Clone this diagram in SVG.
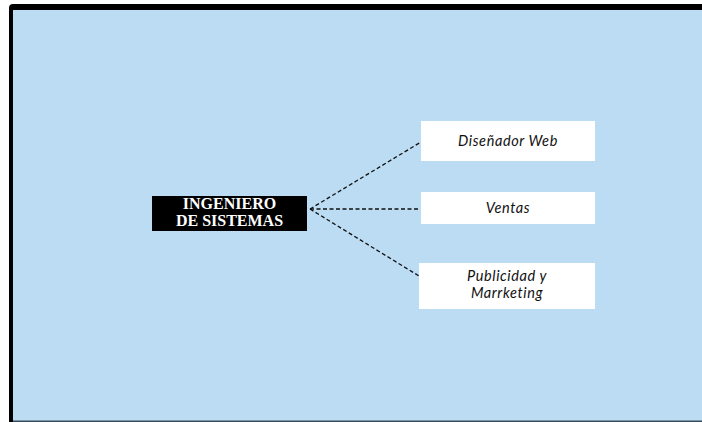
<svg xmlns="http://www.w3.org/2000/svg" width="702" height="422" viewBox="0 0 702 422">
<style>
.lbl{font-family:"Lato","Noto Sans",sans-serif;font-style:italic;font-size:14.5px;fill:#111;text-anchor:middle;letter-spacing:0.6px}
.head{font-family:"Liberation Serif",serif;font-weight:bold;font-size:16px;fill:#ffffff;text-anchor:middle}
.box{fill:#ffffff}
.conn{stroke:#111;stroke-width:1.3;stroke-dasharray:4 2.5;fill:none}
</style>
<rect x="0" y="0" width="702" height="422" fill="#ffffff"/>
<rect x="9" y="4" width="700" height="422" rx="4" fill="#000"/>
<rect x="13" y="10" width="689" height="411" fill="#bbdcf3"/>
<rect x="13" y="420.5" width="689" height="1.5" fill="#3a4a5a"/>
<g id="connectors">
<line class="conn" x1="310" y1="209" x2="421" y2="142"/>
<line class="conn" x1="310" y1="209" x2="420" y2="209"/>
<line class="conn" x1="310" y1="209" x2="419" y2="276"/>
</g>
<g id="root">
<rect x="152" y="196" width="155" height="35" fill="#000"/>
<text class="head" x="229.5" y="209">INGENIERO</text>
<text class="head" x="229.5" y="226">DE SISTEMAS</text>
</g>
<g id="n-disenador">
<rect class="box" x="421" y="121" width="174" height="40"/>
<text class="lbl" x="508" y="146">Diseñador Web</text>
</g>
<g id="n-ventas">
<rect class="box" x="421" y="192" width="174" height="32"/>
<text class="lbl" x="508" y="213">Ventas</text>
</g>
<g id="n-publicidad">
<rect class="box" x="419" y="263" width="176" height="46"/>
<text class="lbl" x="507" y="281">Publicidad y</text>
<text class="lbl" x="507" y="298">Marrketing</text>
</g>
</svg>
